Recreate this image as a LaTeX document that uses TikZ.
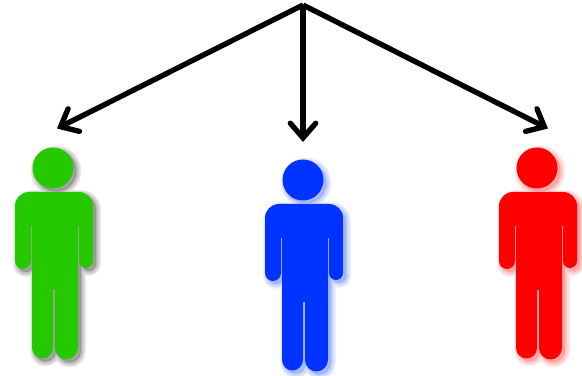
\documentclass[tikz,border=0pt]{standalone}
\definecolor{personGreen}{RGB}{38, 200, 0}
\definecolor{personBlue}{RGB}{0, 51, 255}
\definecolor{personRed}{RGB}{255, 0, 0}
\usetikzlibrary{arrows.meta}

\newcommand{\personshape}{%
  (0,0) circle[radius=20.5]
  (-38,-38) arc[start angle=180, end angle=90, radius=14] -- (26,-24)
  arc[start angle=90, end angle=0, radius=14] -- (40,-93)
  arc[start angle=0, end angle=-180, radius=7] -- (26,-58) -- (25,-58) -- (25,-180)
  arc[start angle=0, end angle=-180, radius=11.5] -- (2,-122) -- (0,-122) -- (0,-180)
  arc[start angle=0, end angle=-180, radius=10.5] -- (-21,-58) -- (-22,-58) -- (-22,-93)
  arc[start angle=0, end angle=-180, radius=8] -- cycle
}

\begin{document}
\begin{tikzpicture}[
    x=0.75pt, y=0.75pt,
    pointer/.style={-{Straight Barb[length=11pt, width=19pt, line cap=round]}, line width=4pt, black},
    pics/person/.style 2 args={
      code={
        % Soft shadow
        \foreach \w in {10,8,6,4,2} {
          \path[fill=#2, draw=#2, fill opacity=0.11, draw opacity=0.11, line width=\w*0.75pt, line join=round, shift={(3,-3)}] \personshape;
        }
        \fill[#1] \personshape;
      }
    },
  ]
    \useasboundingbox (0,0) rectangle (582,375);

    \coordinate (apex) at (303,370);
    \coordinate (greenEnd) at (57,246.5);
    \coordinate (blueEnd) at (303,233);
    \coordinate (redEnd) at (548,246.5);

    \draw[pointer] (apex) -- (greenEnd);
    \draw[pointer] (apex) -- (blueEnd);
    \draw[pointer] (apex) -- (redEnd);

    % Figures
    \pic (greenMan) at (53,207) {person={personGreen}{black!60}};
    \pic (blueMan) at (303,195) {person={personBlue}{personBlue!55}};
    \pic (redMan) at (537,207) {person={personRed}{personRed!55}};
  \end{tikzpicture}
\end{document}
